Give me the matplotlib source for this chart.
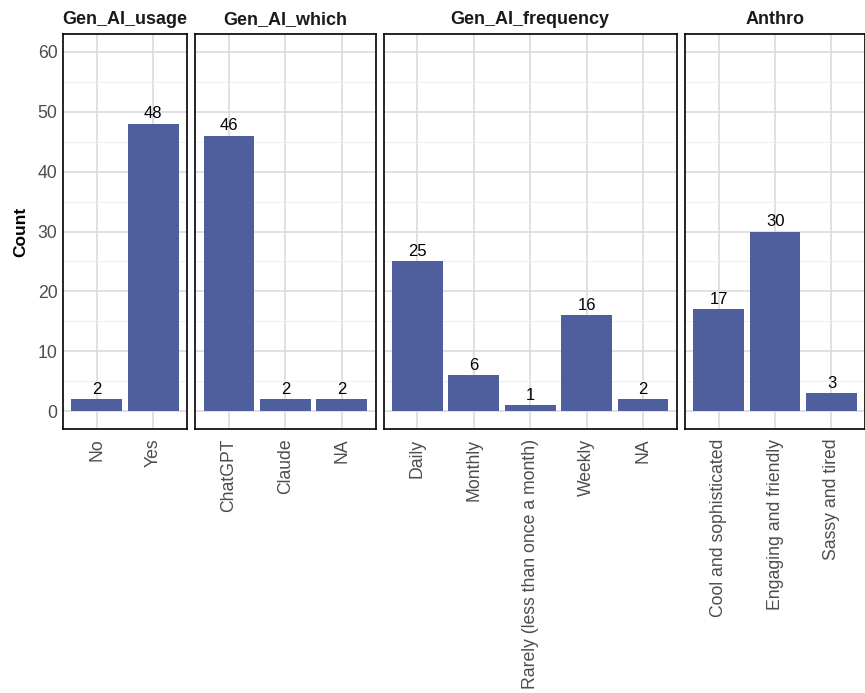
import matplotlib
matplotlib.use('Agg')
import matplotlib.pyplot as plt
from matplotlib.ticker import MultipleLocator

plt.rcParams['font.family'] = ['Liberation Sans', 'DejaVu Sans']

# facet data
facets = ['Gen_AI_usage', 'Gen_AI_which', 'Gen_AI_frequency', 'Anthro']
usage_cats = ['No', 'Yes']
usage_vals = [2, 48]
which_cats = ['ChatGPT', 'Claude', 'NA']
which_vals = [46, 2, 2]
freq_cats = ['Daily', 'Monthly', 'Rarely (less than once a month)', 'Weekly', 'NA']
freq_vals = [25, 6, 1, 16, 2]
anthro_cats = ['Cool and sophisticated', 'Engaging and friendly', 'Sassy and tired']
anthro_vals = [17, 30, 3]

panels = [(usage_cats, usage_vals), (which_cats, which_vals),
          (freq_cats, freq_vals), (anthro_cats, anthro_vals)]

W, H = 865, 693
fig = plt.figure(figsize=(W / 100, H / 100), dpi=100)

bar_color = '#4F5F9E'
unit = 56.4
gap = 8
left = 63
top, bottom = 34, 429

for i, (name, (cats, vals)) in enumerate(zip(facets, panels)):
    n = len(cats)
    w = (n + 0.2) * unit
    ax = fig.add_axes([left / W, 1 - bottom / H, w / W, (bottom - top) / H])
    left += w + gap

    x = list(range(n))
    ax.bar(x, vals, width=0.9, color=bar_color, zorder=3)
    for xi, v in zip(x, vals):
        ax.text(xi, v + 0.4, str(v), ha='center', va='bottom', fontsize=12,
                color='black', zorder=4)

    ax.set_xlim(-0.6, n - 0.4)
    ax.set_ylim(-3, 63)
    ax.set_xticks(x)
    ax.set_xticklabels(cats, rotation=90, fontsize=12.7, color='#4D4D4D')
    ax.yaxis.set_major_locator(MultipleLocator(10))
    ax.yaxis.set_minor_locator(MultipleLocator(5))
    ax.grid(which='major', color='#D9D9D9', linewidth=1.1, zorder=0)
    ax.grid(which='minor', axis='y', color='#EFEFEF', linewidth=0.8, zorder=0)
    ax.tick_params(axis='both', which='both', length=0, pad=4)
    ax.tick_params(axis='x', pad=7)
    if i == 0:
        ax.tick_params(axis='y', labelsize=12.7, labelcolor='#4D4D4D')
        ax.set_ylabel('Count', fontsize=12.5, fontweight='bold', labelpad=7)
    else:
        ax.set_yticklabels([])
    for s in ax.spines.values():
        s.set_color('black')
        s.set_linewidth(1.2)
    ax.set_title(name, fontsize=13, fontweight='bold', color='#1A1A1A', pad=7)

fig.savefig('out.png', dpi=100)
